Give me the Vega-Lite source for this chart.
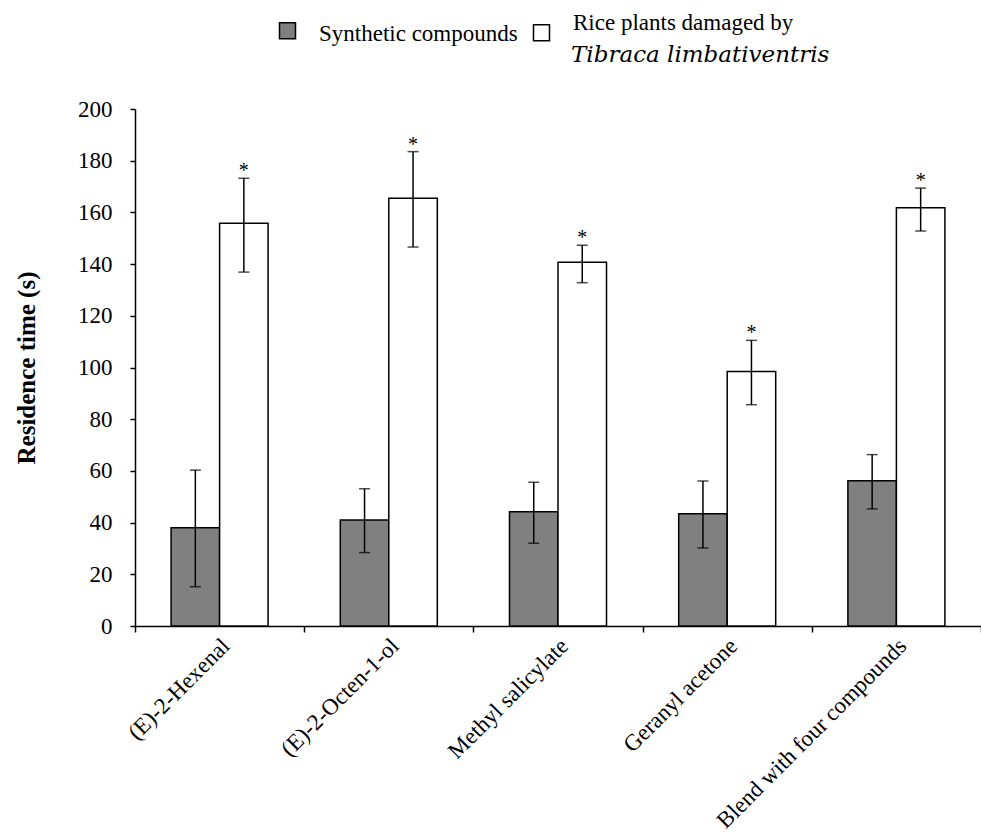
{
  "$schema": "https://vega.github.io/schema/vega-lite/v6.json",
  "autosize": "none",
  "width": 846,
  "height": 517,
  "padding": {"left": 135, "top": 109, "right": 0, "bottom": 213},
  "background": "white",
  "config": {
    "view": {"stroke": null},
    "font": "Liberation Serif",
    "axis": {"labelFont": "Liberation Serif", "titleFont": "Liberation Serif", "domainColor": "black", "tickColor": "black", "labelColor": "black", "titleColor": "black", "domainWidth": 1.5, "tickWidth": 1.5, "grid": false},
    "legend": {"labelFont": "Liberation Serif", "labelColor": "black"}
  },
  "title": {
    "text": "Tibraca limbativentris",
    "anchor": "start",
    "frame": "group",
    "dx": 436,
    "offset": -66,
    "baseline": "alphabetic",
    "font": "DejaVu Serif",
    "fontSize": 23,
    "fontStyle": "italic",
    "fontWeight": "normal",
    "color": "black"
  },
  "data": {
    "values": [
      {"compound": "(E)-2-Hexenal", "treatment": "Synthetic compounds", "mean": 38.0, "lower": 15.2, "upper": 60.3, "sig": ""},
      {"compound": "(E)-2-Hexenal", "treatment": "Rice plants damaged by Tibraca limbativentris", "mean": 155.8, "lower": 136.9, "upper": 173.2, "sig": "*"},
      {"compound": "(E)-2-Octen-1-ol", "treatment": "Synthetic compounds", "mean": 41.0, "lower": 28.4, "upper": 53.1, "sig": ""},
      {"compound": "(E)-2-Octen-1-ol", "treatment": "Rice plants damaged by Tibraca limbativentris", "mean": 165.5, "lower": 146.6, "upper": 183.5, "sig": "*"},
      {"compound": "Methyl salicylate", "treatment": "Synthetic compounds", "mean": 44.2, "lower": 32.0, "upper": 55.6, "sig": ""},
      {"compound": "Methyl salicylate", "treatment": "Rice plants damaged by Tibraca limbativentris", "mean": 140.7, "lower": 132.8, "upper": 147.3, "sig": "*"},
      {"compound": "Geranyl acetone", "treatment": "Synthetic compounds", "mean": 43.4, "lower": 30.2, "upper": 56.1, "sig": ""},
      {"compound": "Geranyl acetone", "treatment": "Rice plants damaged by Tibraca limbativentris", "mean": 98.5, "lower": 85.6, "upper": 110.5, "sig": "*"},
      {"compound": "Blend with four compounds", "treatment": "Synthetic compounds", "mean": 56.2, "lower": 45.3, "upper": 66.3, "sig": ""},
      {"compound": "Blend with four compounds", "treatment": "Rice plants damaged by Tibraca limbativentris", "mean": 161.8, "lower": 152.8, "upper": 169.4, "sig": "*"}
    ]
  },
  "encoding": {
    "x": {
      "field": "compound", "type": "nominal", "sort": null,
      "scale": {"paddingInner": 0, "paddingOuter": 0},
      "axis": {"title": null, "tickBand": "extent", "labelAngle": -45, "labelAlign": "right", "labelBaseline": "middle", "labelFontSize": 23, "labelPadding": 10, "labelOffset": 6, "tickSize": 6, "labelLimit": 400}
    },
    "xOffset": {
      "field": "treatment", "type": "nominal", "sort": null,
      "scale": {"paddingInner": 0, "paddingOuter": 0.744}
    }
  },
  "layer": [
    {
      "mark": {"type": "bar", "stroke": "black", "strokeWidth": 1.5},
      "encoding": {
        "y": {
          "field": "mean", "type": "quantitative",
          "scale": {"domain": [0, 200], "nice": false},
          "axis": {"title": "Residence time (s)", "titleFontSize": 25, "titleFontWeight": "bold", "titlePadding": 38, "labelFontSize": 23, "labelPadding": 18, "tickSize": 5, "values": [0, 20, 40, 60, 80, 100, 120, 140, 160, 180, 200]}
        },
        "fill": {
          "field": "treatment", "type": "nominal", "sort": null,
          "scale": {"domain": ["Synthetic compounds", "Rice plants damaged by Tibraca limbativentris"], "range": ["#808080", "#ffffff"]},
          "legend": {
            "title": null,
            "orient": "none",
            "legendX": 141,
            "legendY": -90,
            "direction": "horizontal",
            "symbolType": "square",
            "symbolSize": 256,
            "symbolStrokeColor": "black",
            "symbolStrokeWidth": 1.5,
            "labelFontSize": 23,
            "labelOffset": 20,
            "labelLimit": 400,
            "columnPadding": 12,
            "labelExpr": "datum.value === 'Synthetic compounds' ? datum.label : 'Rice plants damaged by'",
            "encode": {
              "labels": {"update": {"dy": {"signal": "datum.value === 'Synthetic compounds' ? 3 : -10"}}}
            }
          }
        }
      }
    },
    {
      "mark": {"type": "rule", "color": "black", "strokeWidth": 1.5},
      "encoding": {
        "y": {"field": "lower", "type": "quantitative"},
        "y2": {"field": "upper"}
      }
    },
    {
      "mark": {"type": "tick", "color": "black", "thickness": 1.5, "size": 11, "orient": "horizontal"},
      "encoding": {"y": {"field": "lower", "type": "quantitative"}}
    },
    {
      "mark": {"type": "tick", "color": "black", "thickness": 1.5, "size": 11, "orient": "horizontal"},
      "encoding": {"y": {"field": "upper", "type": "quantitative"}}
    },
    {
      "mark": {"type": "text", "font": "Liberation Serif", "fontSize": 20, "baseline": "alphabetic", "dy": -1, "color": "black"},
      "encoding": {
        "y": {"field": "upper", "type": "quantitative"},
        "text": {"field": "sig"}
      }
    }
  ]
}
